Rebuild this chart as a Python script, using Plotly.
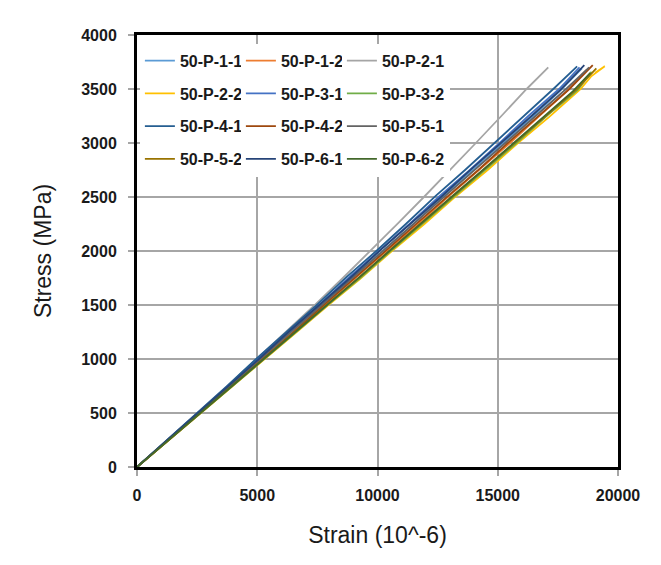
import plotly.graph_objects as go

# stress-strain curves
names = ['50-P-1-1', '50-P-1-2', '50-P-2-1', '50-P-2-2', '50-P-3-1', '50-P-3-2',
         '50-P-4-1', '50-P-4-2', '50-P-5-1', '50-P-5-2', '50-P-6-1', '50-P-6-2']
colors = ['#5B9BD5', '#ED7D31', '#A5A5A5', '#FFC000', '#4472C4', '#70AD47',
          '#255E91', '#9E480E', '#636363', '#997300', '#264478', '#43682B']

strain_1_1 = [0, 1230, 2620, 3940, 5130, 6450, 7660, 8930, 10240, 11440, 12700, 14000, 15190, 16480, 17620, 18500]
stress_1_1 = [0, 240, 510, 760, 1000, 1260, 1490, 1750, 2010, 2240, 2500, 2760, 3000, 3250, 3490, 3690]

strain_1_2 = [0, 1370, 2570, 3960, 5270, 6460, 7840, 9140, 10320, 11700, 12980, 14150, 15510, 16780, 17880, 18700]
stress_1_2 = [0, 260, 490, 750, 1010, 1240, 1500, 1760, 1990, 2250, 2510, 2740, 3000, 3260, 3480, 3680]

strain_2_1 = [0, 1270, 2520, 3810, 4980, 6200, 7440, 8560, 9700, 10870, 11930, 13020, 14090, 15150, 16200, 17100]
stress_2_1 = [0, 250, 500, 760, 1000, 1250, 1510, 1750, 2000, 2260, 2500, 2750, 3000, 3250, 3500, 3700]

strain_2_2 = [0, 1280, 2660, 3990, 5300, 6640, 7960, 9270, 10600, 11950, 13170, 14580, 15840, 17130, 18440, 18900, 19450, 19050]
stress_2_2 = [0, 240, 500, 750, 990, 1250, 1500, 1740, 2000, 2250, 2490, 2750, 3000, 3240, 3500, 3620, 3710, 3650]

strain_3_1 = [0, 1270, 2590, 3750, 5020, 6370, 7580, 8790, 10130, 11330, 12540, 13780, 15120, 16270, 17550, 18400]
stress_3_1 = [0, 250, 510, 740, 1000, 1260, 1500, 1750, 2010, 2250, 2500, 2740, 3010, 3250, 3500, 3700]

strain_3_2 = [0, 1330, 2600, 4030, 5330, 6560, 7980, 9280, 10500, 11910, 13210, 14420, 15780, 17090, 18320, 18900]
stress_3_2 = [0, 250, 490, 760, 1000, 1240, 1510, 1750, 1990, 2260, 2500, 2740, 3000, 3260, 3490, 3660]

strain_4_1 = [0, 1300, 2500, 3750, 5000, 6230, 7420, 8720, 9950, 11180, 12420, 13640, 14870, 16040, 17310, 18300]
stress_4_1 = [0, 260, 500, 750, 1010, 1250, 1490, 1760, 2000, 2250, 2510, 2750, 3000, 3240, 3500, 3710]

strain_4_2 = [0, 1250, 2600, 3950, 5140, 6520, 7820, 9000, 10370, 11660, 12830, 14190, 15470, 16680, 17980, 18950]
stress_4_2 = [0, 240, 500, 760, 990, 1250, 1510, 1740, 2000, 2260, 2490, 2750, 3010, 3250, 3500, 3720]

strain_5_1 = [0, 1290, 2570, 3800, 5130, 6460, 7680, 8960, 10230, 11450, 12770, 14090, 15310, 16580, 17840, 18800]
stress_5_1 = [0, 250, 500, 740, 1000, 1260, 1500, 1750, 2000, 2240, 2500, 2760, 3000, 3250, 3500, 3700]

strain_5_2 = [0, 1320, 2690, 3950, 5300, 6520, 7880, 9280, 10490, 11800, 13140, 14350, 15700, 17050, 18290, 19100]
stress_5_2 = [0, 250, 510, 750, 1000, 1240, 1500, 1760, 2000, 2250, 2500, 2740, 3000, 3260, 3500, 3690]

strain_6_1 = [0, 1270, 2540, 3860, 5070, 6300, 7550, 8860, 10130, 11380, 12640, 13910, 15150, 16400, 17600, 18600]
stress_6_1 = [0, 250, 500, 760, 1000, 1250, 1490, 1750, 2010, 2250, 2500, 2760, 3000, 3250, 3490, 3720]

strain_6_2 = [0, 1270, 2650, 3960, 5320, 6580, 7900, 9150, 10480, 11850, 13070, 14380, 15600, 16930, 18130, 18850]
stress_6_2 = [0, 240, 500, 750, 1010, 1250, 1500, 1740, 2000, 2260, 2500, 2750, 2990, 3250, 3480, 3650]

strains = [strain_1_1, strain_1_2, strain_2_1, strain_2_2, strain_3_1, strain_3_2,
           strain_4_1, strain_4_2, strain_5_1, strain_5_2, strain_6_1, strain_6_2]
stresses = [stress_1_1, stress_1_2, stress_2_1, stress_2_2, stress_3_1, stress_3_2,
            stress_4_1, stress_4_2, stress_5_1, stress_5_2, stress_6_1, stress_6_2]

x_ticks = [0, 5000, 10000, 15000, 20000]
x_tick_labels = ['0', '5000', '10000', '15000', '20000']
y_ticks = [0, 500, 1000, 1500, 2000, 2500, 3000, 3500, 4000]

fig = go.Figure()

# three legend columns, filled row by row like the original
legend_ids = ['legend', 'legend2', 'legend3']
for i, name in enumerate(names):
	fig.add_trace(go.Scatter(
		x=strains[i],
		y=stresses[i],
		mode='lines',
		name=name,
		legendgroup=name,
		legend=legend_ids[i % 3],
		line=dict(color=colors[i], width=1.8)
	))

legend_style = dict(
	yanchor='top',
	y=0.98,
	xanchor='left',
	bgcolor='white',
	borderwidth=0,
	tracegroupgap=9,
	itemwidth=30,
	font=dict(family='Liberation Sans, Arial, sans-serif', size=16, color='#1a1a1a', weight='bold'),
)

axis_common = dict(
	showline=True,
	mirror=True,
	linecolor='black',
	linewidth=3,
	showgrid=True,
	gridcolor='#A6A6A6',
	gridwidth=1.5,
	zeroline=False,
	ticks='outside',
	ticklen=6,
	tickcolor='#A6A6A6',
	tickwidth=1.5,
	tickfont=dict(family='Liberation Sans, Arial, sans-serif', size=16, color='#1a1a1a', weight='bold'),
)

title_font = dict(family='Liberation Sans, Arial, sans-serif', size=23, color='#1a1a1a')

# the page body has an 8px margin, so the figure is a bit smaller than the window
fig.update_layout(
	width=653,
	height=557,
	margin=dict(l=129, r=43, t=27, b=98),
	paper_bgcolor='white',
	plot_bgcolor='white',
	showlegend=True,
	legend=dict(legend_style, x=0.006),
	legend2=dict(legend_style, x=0.216),
	legend3=dict(legend_style, x=0.426),
	xaxis=dict(
		axis_common,
		range=[0, 20000],
		tickvals=x_ticks,
		ticktext=x_tick_labels,
		ticklabelstandoff=6,
		title=dict(text='Strain (10^-6)', font=title_font, standoff=24),
	),
	yaxis=dict(
		axis_common,
		range=[0, 4000],
		tickvals=y_ticks,
		ticklabelstandoff=8,
		title=dict(text='Stress (MPa)', font=title_font, standoff=24),
	),
)

fig.write_html('out.html')
